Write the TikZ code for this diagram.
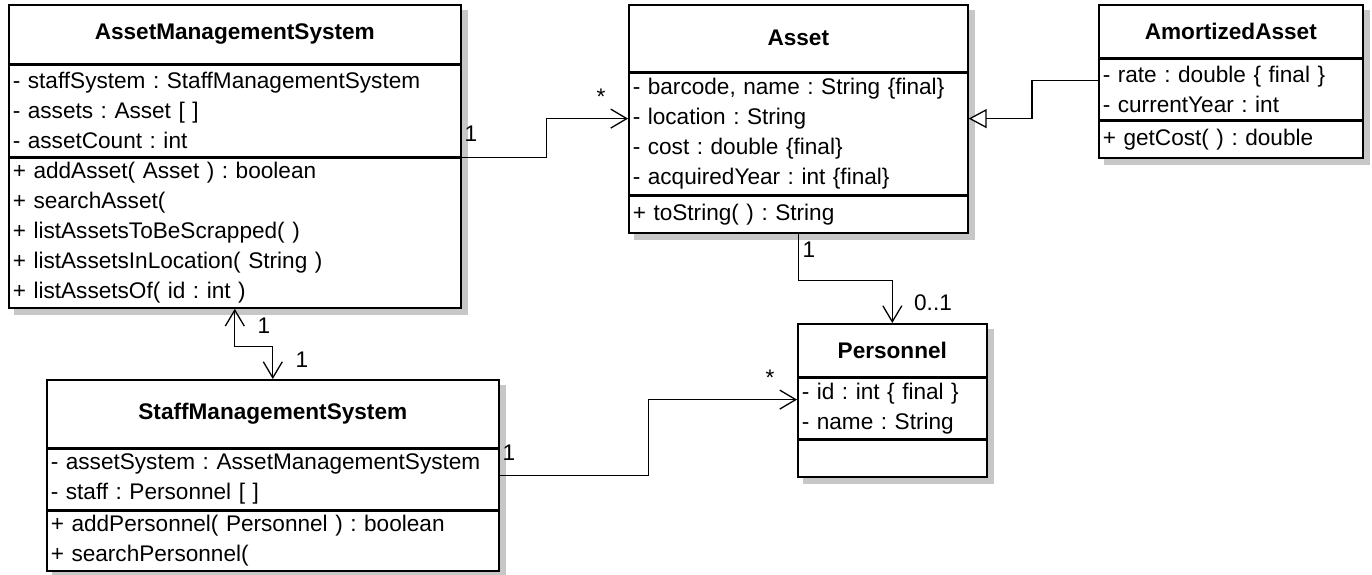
\documentclass[tikz,border=0pt]{standalone}
\usepackage{fontspec}
\setmainfont{Liberation Sans}
\usetikzlibrary{arrows.meta,backgrounds}

\newcommand{\umlfont}{\fontsize{22.6}{30}\selectfont\frenchspacing}

\begin{document}
\begin{tikzpicture}[x=1pt, y=-1pt, line join=miter,
  classhead/.style={draw, line width=1.6pt, fill=white, anchor=north west, inner sep=0pt, font=\umlfont\bfseries},
  classbody/.style={draw, line width=1.6pt, fill=white, anchor=north west, inner xsep=4pt, inner ysep=0pt, align=left, font=\umlfont},
  classshadow/.style={fill=black!22},
  assoc/.style={line width=1.3pt, -{Straight Barb[length=16pt, width=19pt, line width=1.3pt]}},
  biassoc/.style={line width=1.3pt, {Straight Barb[length=16pt, width=19pt, line width=1.3pt]}-{Straight Barb[length=16pt, width=19pt, line width=1.3pt]}},
  inherit/.style={line width=1.3pt, -{Triangle[open, fill=white, length=18pt, width=19pt, line width=1.3pt]}},
  mult/.style={inner sep=0pt, font=\umlfont}]
\useasboundingbox (0,0) rectangle (1372,574);

\node[classhead, minimum width=452pt, minimum height=59pt] (amsHead) at (8,4) {AssetManagementSystem};
\node[classbody, minimum height=91pt, text width=444pt] (amsAttr) at (amsHead.south west) {- staffSystem : StaffManagementSystem\\- assets : Asset [ ]\\- assetCount : int};
\node[classbody, minimum height=150pt, text width=444pt] (amsOps) at (amsAttr.south west) {+ addAsset( Asset ) : boolean\\+ searchAsset(\\+ listAssetsToBeScrapped( )\\+ listAssetsInLocation( String )\\+ listAssetsOf( id : int )};

\node[classhead, minimum width=339pt, minimum height=67pt] (assetHead) at (628,4) {Asset};
\node[classbody, minimum height=121pt, text width=331pt] (assetAttr) at (assetHead.south west) {- barcode, name : String \{final\}\\- location : String\\- cost : double \{final\}\\- acquiredYear : int \{final\}};
\node[classbody, minimum height=37pt, text width=331pt] (assetOps) at (assetAttr.south west) {+ toString( ) : String};

\node[classhead, minimum width=264pt, minimum height=53pt] (amortHead) at (1098,4) {AmortizedAsset};
\node[classbody, minimum height=60pt, text width=256pt] (amortAttr) at (amortHead.south west) {- rate : double \{ final \}\\- currentYear : int};
\node[classbody, minimum height=37pt, text width=256pt] (amortOps) at (amortAttr.south west) {+ getCost( ) : double};

\node[classhead, minimum width=189pt, minimum height=53pt] (persHead) at (797,323) {Personnel};
\node[classbody, minimum height=60pt, text width=181pt] (persAttr) at (persHead.south west) {- id : int \{ final \}\\- name : String};
\node[classbody, minimum height=37pt, text width=181pt] (persOps) at (persAttr.south west) {};

\node[classhead, minimum width=452pt, minimum height=68pt] (smsHead) at (46,379) {StaffManagementSystem};
\node[classbody, minimum height=60pt, text width=444pt] (smsAttr) at (smsHead.south west) {- assetSystem : AssetManagementSystem\\- staff : Personnel [ ]};
\node[classbody, minimum height=60pt, text width=444pt] (smsOps) at (smsAttr.south west) {+ addPersonnel( Personnel ) : boolean\\+ searchPersonnel(};

\begin{scope}[on background layer]
\fill[classshadow] ([shift={(6,6)}]amsHead.north west) rectangle ([shift={(6,6)}]amsOps.south east);
\fill[classshadow] ([shift={(6,6)}]assetHead.north west) rectangle ([shift={(6,6)}]assetOps.south east);
\fill[classshadow] ([shift={(6,6)}]amortHead.north west) rectangle ([shift={(6,6)}]amortOps.south east);
\fill[classshadow] ([shift={(6,6)}]persHead.north west) rectangle ([shift={(6,6)}]persOps.south east);
\fill[classshadow] ([shift={(6,6)}]smsHead.north west) rectangle ([shift={(6,6)}]smsOps.south east);
\end{scope}

\draw[assoc] (amsAttr.south east) -- ++(85,0) |- ([yshift=-46pt]assetAttr.north west);
\draw[inherit] ([yshift=-22pt]amortAttr.north west) -- ++(-66,0) |- ([yshift=-46pt]assetAttr.north east);
\draw[assoc] (assetOps.south) -- ++(0,47) -| (persHead.north);
\draw[biassoc] (amsOps.south) -- ++(0,38) -| (smsHead.north);
\draw[assoc] ([yshift=4pt]smsAttr.east) -- ++(149,0) |- ([yshift=-22pt]persAttr.north west);

\node[mult] (mAmsOne) at (471,134) {1};
\node[mult] (mAssetMany) at (601,97) {*};
\node[mult] (mAssetOne) at (809,250) {1};
\node[mult] (mPersOpt) at (933,303) {0..1};
\node[mult] (mAmsSms) at (264,326) {1};
\node[mult] (mSmsAms) at (302,360) {1};
\node[mult] (mSmsOne) at (509,453) {1};
\node[mult] (mPersMany) at (770,378) {*};
\end{tikzpicture}
\end{document}
